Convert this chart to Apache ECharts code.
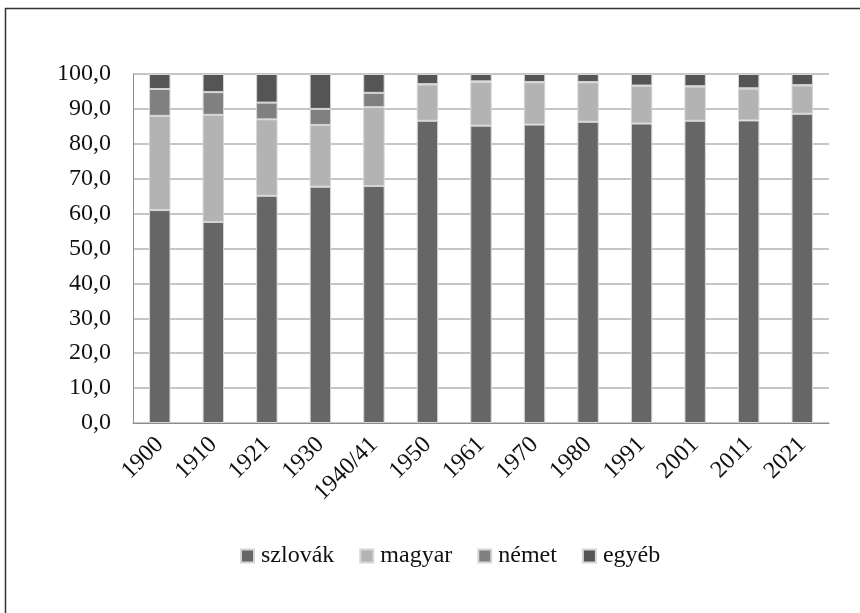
<!DOCTYPE html>
<html>
<head>
<meta charset="utf-8">
<script src="https://cdn.jsdelivr.net/npm/echarts@6/dist/echarts.min.js"></script>
<style>
    html, body { margin: 0; padding: 0; background: #fff; }
    #chart { width: 860px; height: 613px; }
</style>
</head>
<body>
<div id="chart"></div>
<script>
// évek
var years = ['1900', '1910', '1921', '1930', '1940/41', '1950', '1961', '1970', '1980', '1991', '2001', '2011', '2021'];

// nemzetiségi arányok (%)
var szlovak = [61.0, 57.6, 65.1, 67.7, 67.9, 86.6, 85.2, 85.5, 86.3, 85.8, 86.6, 86.7, 88.6];
var magyar  = [27.0, 30.7, 21.9, 17.7, 22.6, 10.4, 12.5, 12.1, 11.3, 10.8, 9.8, 9.1, 8.1];
var nemet   = [7.7, 6.5, 4.8, 4.6, 4.1, 0.1, 0.2, 0.1, 0.1, 0.1, 0.1, 0.1, 0.1];
var egyeb   = [4.3, 5.2, 8.2, 10.0, 5.4, 2.9, 2.1, 2.3, 2.3, 3.3, 3.5, 4.1, 3.2];

var font = "'Liberation Serif', 'DejaVu Serif', serif";

function bar(name, data, color) {
    return {
        name: name,
        type: 'bar',
        stack: 'total',
        barWidth: '40%',
        itemStyle: {
            color: color,
            borderColor: '#d6d6d6',
            borderWidth: 1
        },
        data: data
    };
}

var chart = echarts.init(document.getElementById('chart'));
var option = {
    animation: false,
    textStyle: { fontFamily: font },
    graphic: [{
        type: 'rect',
        shape: { x: 5.5, y: 8.5, width: 900, height: 700 },
        style: { fill: 'none', stroke: '#333', lineWidth: 1.5 },
        silent: true
    }],
    grid: {
        left: 133,
        right: 31,
        top: 74,
        bottom: 190
    },
    legend: {
        left: 235,
        top: 539,
        itemWidth: 13,
        itemHeight: 13,
        itemGap: 25,
        icon: 'rect',
        textStyle: { fontFamily: font, fontSize: 24, color: '#111', padding: [0, 0, 0, 2] },
        data: ['szlovák', 'magyar', 'német', 'egyéb']
    },
    xAxis: {
        type: 'category',
        data: years,
        axisLine: { lineStyle: { color: '#8c8c8c', width: 1 } },
        axisTick: { show: false },
        axisLabel: {
            rotate: 45,
            interval: 0,
            margin: 18,
            fontFamily: font,
            fontSize: 24,
            color: '#111'
        }
    },
    yAxis: {
        type: 'value',
        min: 0,
        max: 100,
        interval: 10,
        axisLine: { show: true, lineStyle: { color: '#8c8c8c', width: 1 } },
        axisTick: { show: false },
        splitLine: { lineStyle: { color: '#b3b3b3', width: 1.5 } },
        axisLabel: {
            margin: 22,
            fontFamily: font,
            fontSize: 24,
            color: '#111',
            formatter: function (v) {
                return v.toFixed(1).replace('.', ',');
            }
        }
    },
    series: [
        bar('szlovák', szlovak, '#666666'),
        bar('magyar', magyar, '#b3b3b3'),
        bar('német', nemet, '#808080'),
        bar('egyéb', egyeb, '#555555')
    ]
};
chart.setOption(option);
window.addEventListener('resize', function () {
    chart.resize();
});
</script>
</body>
</html>
